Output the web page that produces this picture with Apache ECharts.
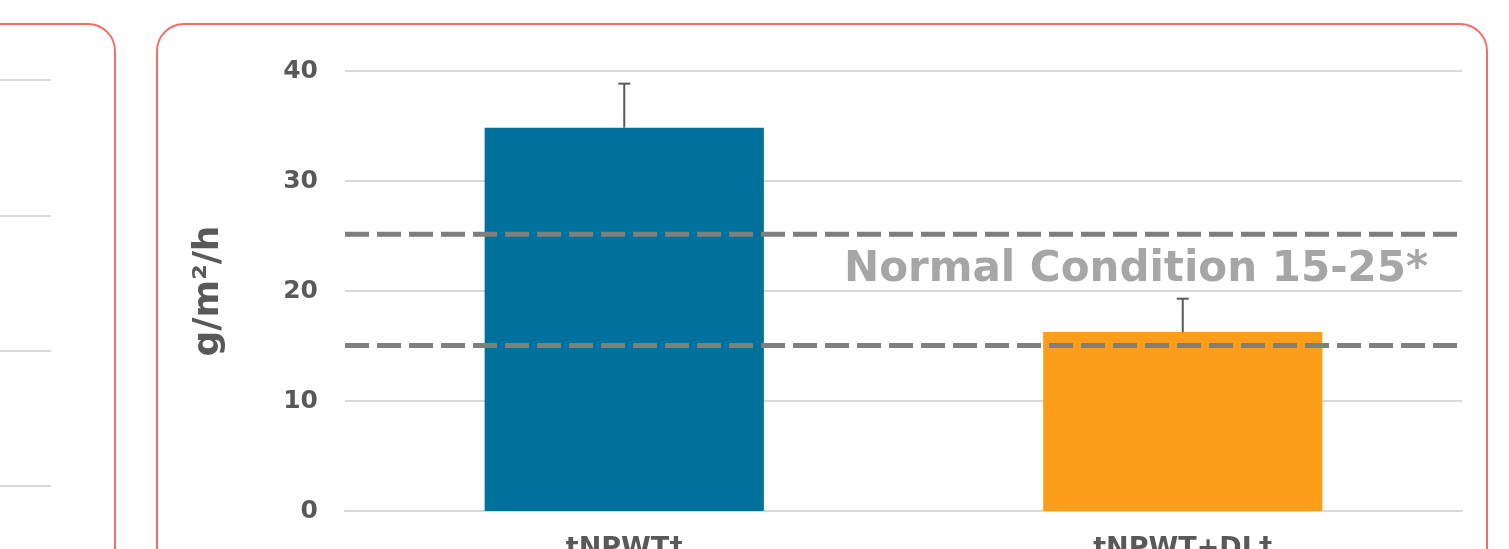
<!DOCTYPE html>
<html>
<head>
<meta charset="utf-8">
<script src="https://cdn.jsdelivr.net/npm/echarts@6/dist/echarts.min.js"></script>
<style>
html,body{margin:0;padding:0;background:#fff;}
#c{width:1509px;height:549px;}
</style>
</head>
<body>
<div id="c"></div>
<script>
// ---- data ----
const categories = ['tNPWT‡', 'tNPWT+DL†'];
const meanValues = [34.85, 16.27];
const errorTops = [38.85, 19.3];
const normalRangeLines = [15.05, 25.15];
const yTicks = [0, 10, 20, 30, 40];
const leftPanelTicks = [0, 1, 2, 3];
const barColors = ['#00709c', '#fd9e1b'];
const rangeLabel = 'Normal Condition 15-25*';

const FONT = '"DejaVu Sans", Verdana, sans-serif';
const chart = echarts.init(document.getElementById('c'), null, {renderer: 'canvas'});

const errData = categories.map((c, i) => [i, meanValues[i], errorTops[i]]);
const yMin = yTicks[0], yMax = yTicks[yTicks.length - 1];

const option = {
  backgroundColor: '#ffffff',
  animation: false,
  grid: [
    {left: 345, right: 47, top: 71, bottom: 38, containLabel: false, outerBoundsMode: 'none'},
    {left: -100, right: 1458, top: 80, height: 406, containLabel: false, outerBoundsMode: 'none'},
    {left: 345, right: 47, top: 71, bottom: 38, containLabel: false, outerBoundsMode: 'none'}
  ],
  xAxis: [
    {
      type: 'category', gridIndex: 0, data: categories,
      axisLine: {show: true, lineStyle: {color: '#d9d9d9', width: 2}},
      axisTick: {show: false},
      axisLabel: {color: '#595959', fontFamily: FONT, fontWeight: 'bold', fontSize: 27, margin: 24}
    },
    {type: 'value', gridIndex: 1, show: false, min: 0, max: 1},
    {type: 'value', gridIndex: 2, show: false, min: 0, max: 1}
  ],
  yAxis: [
    {
      type: 'value', gridIndex: 0, min: yMin, max: yMax, interval: 10,
      name: 'g/m²/h', nameLocation: 'middle', nameGap: 118,
      nameTextStyle: {color: '#595959', fontFamily: FONT, fontWeight: 'bold', fontSize: 36},
      axisLine: {show: false}, axisTick: {show: false},
      axisLabel: {color: '#595959', fontFamily: FONT, fontWeight: 'bold', fontSize: 25, margin: 27},
      splitLine: {lineStyle: {color: '#d9d9d9', width: 2}}
    },
    {
      type: 'value', gridIndex: 1, min: leftPanelTicks[0], max: leftPanelTicks[leftPanelTicks.length - 1], interval: 1,
      axisLine: {show: false}, axisTick: {show: false}, axisLabel: {show: false},
      splitLine: {lineStyle: {color: '#d9d9d9', width: 2}}
    },
    {type: 'value', gridIndex: 2, show: false, min: yMin, max: yMax}
  ],
  series: [
    {
      type: 'bar', xAxisIndex: 0, yAxisIndex: 0, z: 2,
      barWidth: '50%',
      data: meanValues.map((v, i) => ({value: v, itemStyle: {color: barColors[i]}}))
    },
    ...normalRangeLines.map(v => ({
      type: 'line', xAxisIndex: 2, yAxisIndex: 2, z: 5, silent: true,
      symbol: 'none',
      lineStyle: {type: [24, 8], width: 5, color: '#7f7f7f', cap: 'butt'},
      data: [[0, v], [1, v]]
    })),
    {
      type: 'custom', xAxisIndex: 0, yAxisIndex: 0, z: 10,
      data: errData,
      renderItem: function (params, api) {
        const x = api.value(0);
        const p0 = api.coord([x, api.value(1)]);
        const p1 = api.coord([x, api.value(2)]);
        const style = {stroke: '#595959', lineWidth: 2};
        return {
          type: 'group',
          children: [
            {type: 'line', shape: {x1: p0[0], y1: p0[1], x2: p1[0], y2: p1[1]}, style: style},
            {type: 'line', shape: {x1: p1[0] - 6, y1: p1[1], x2: p1[0] + 6, y2: p1[1]}, style: style}
          ]
        };
      }
    },
    {type: 'line', xAxisIndex: 1, yAxisIndex: 1, data: [], silent: true}
  ],
  graphic: [
    {type: 'rect', shape: {x: -40, y: 24, width: 155, height: 600, r: 27},
     style: {fill: 'none', stroke: '#f36e66', lineWidth: 2}, z: 100, silent: true},
    {type: 'rect', shape: {x: 157, y: 24, width: 1330, height: 600, r: 27},
     style: {fill: 'none', stroke: '#f36e66', lineWidth: 2}, z: 100, silent: true},
    {type: 'text', x: 1428, y: 270, z: 100, silent: true,
     style: {text: rangeLabel, fill: '#a6a6a6', font: 'bold 42px ' + FONT, textAlign: 'right', textVerticalAlign: 'middle'}}
  ]
};
chart.setOption(option);
</script>
</body>
</html>
